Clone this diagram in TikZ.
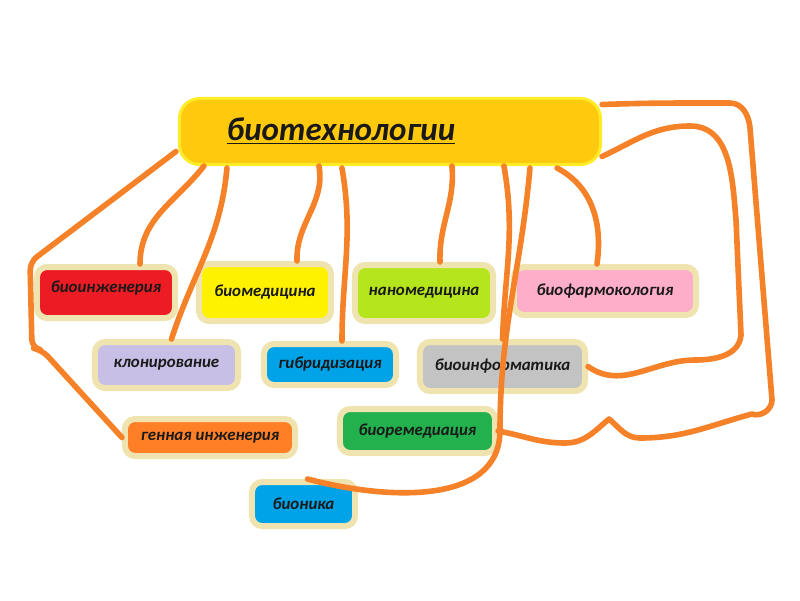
\documentclass[tikz,border=0pt]{standalone}
\usepackage{fontspec}
\setmainfont{Carlito}
\usepackage{xcolor}
\usepackage{tikz}
\usetikzlibrary{positioning,calc}

\definecolor{lineorange}{RGB}{245,130,40}
\definecolor{topfill}{RGB}{255,201,14}
\definecolor{topborder}{RGB}{255,236,40}
\definecolor{halo}{RGB}{239,228,176}
\definecolor{redbox}{RGB}{237,28,36}
\definecolor{yellowbox}{RGB}{255,242,0}
\definecolor{limebox}{RGB}{181,230,29}
\definecolor{pinkbox}{RGB}{255,174,201}
\definecolor{lavenderbox}{RGB}{200,191,231}
\definecolor{bluebox}{RGB}{0,162,232}
\definecolor{greybox}{RGB}{195,195,195}
\definecolor{orangebox}{RGB}{255,127,39}
\definecolor{greenbox}{RGB}{34,177,76}

\begin{document}
\begin{tikzpicture}[
  x=0.025cm, y=-0.025cm,
  font=\bfseries\itshape\fontsize{12}{14}\selectfont,
  box/.style={draw=halo, line width=0.15cm, rounded corners=0.25cm, align=center, inner sep=2pt, text=black!90},
  link/.style={draw=lineorange, line width=0.14cm, line cap=round, line join=round}]

\useasboundingbox (0,0) rectangle (800,600);

% Top: main topic
\node[draw=topborder, fill=topfill, line width=0.075cm, rounded corners=0.5cm, minimum width=10.525cm, minimum height=1.65cm] (main) at (390,131.5) {};
\node[font=\bfseries\itshape\fontsize{23.5}{28}\selectfont, text=black!90] (title) at (341,131) {\underline{биотехнологии}};

% Row 1
\node[box, fill=redbox, minimum width=3.45cm, minimum height=1.275cm, text depth=0.3cm] (bioeng) at (106,292.5) {биоинженерия};
\node[box, fill=yellowbox, minimum width=3.3cm, minimum height=1.425cm] (biomed) at (265,292.5) {биомедицина};
\node[box, fill=limebox, minimum width=3.45cm, minimum height=1.4cm] (nanomed) at (424,293) {наномедицина};
\node[box, fill=pinkbox, minimum width=4.55cm, minimum height=1.2cm] (biopharm) at (605,291) {биофармокология};

% Row 2
\node[box, fill=lavenderbox, minimum width=3.575cm, minimum height=1.15cm] (clon) at (166.5,365) {клонирование};
\node[box, fill=bluebox, minimum width=3.3cm, minimum height=1.025cm] (hybrid) at (330,364.5) {гибридизация};
\node[box, fill=greybox, minimum width=4.125cm, minimum height=1.225cm] (bioinf) at (502.5,366.5) {биоинформатика};

% Row 3 and 4
\node[box, fill=orangebox, minimum width=4.25cm, minimum height=0.925cm] (genetic) at (210,437.5) {генная инженерия};
\node[box, fill=greenbox, minimum width=3.875cm, minimum height=1.1cm] (bioremed) at (417.5,431) {биоремедиация};
\node[box, fill=bluebox, minimum width=2.575cm, minimum height=1.1cm] (bionics) at (303.5,504) {бионика};

% Edges from the bottom of the main box
\draw[link, rounded corners=6pt] ($(main.west)+(-2,20)$) -- (30,262) -- (32,348) -- (42,350) -- (genetic.west);
\draw[link] ($(main.south west)+(26,0)$) to[out=-128,in=90] ($(bioeng.north)+(34,0)$);
\draw[link] ($(main.south west)+(49,2)$) to[out=-95,in=72] ($(clon.north)+(5,0)$);
\draw[link] ($(main.south west)+(141,0)$) to[out=-80,in=92] ($(biomed.north)+(32,0)$);
\draw[link] ($(main.south west)+(164,2)$) to[out=-80,in=90] ($(hybrid.north)+(12,0)$);
\draw[link] ($(main.south west)+(274,0)$) to[out=-85,in=92] ($(nanomed.north)+(16,0)$);
\draw[link] ($(main.south west)+(326,0)$) to[out=-80,in=88] (bioinf.north);
\draw[link] ($(main.south west)+(352,2)$) to[out=-95,in=90] (500,430) to[out=-90,in=-15] ($(bionics.north)+(4,0)$);
\draw[link] ($(main.south east)+(-45,2)$) to[out=-28,in=82] ($(biopharm.north)+(-8,0)$);

% Loops round the right side
\draw[link] ($(main.east)+(0,25)$) to[out=25,in=180] (690,126) to[out=0,in=95] (736,220) -- (741,335) to[out=-95,in=0] (695,360) to[out=180,in=-35] (bioinf.east);
\draw[link] ($(main.east)+(0,-27)$) to[out=2,in=180] (730,103) to[out=0,in=95] (750,128) -- (772,400) to[out=-90,in=-20] (752,414) to[out=-165,in=0] (640,438) to[out=180,in=-40] (609,419) to[out=-140,in=0] (565,443) to[out=180,in=-10] (bioremed.east);
\end{tikzpicture}
\end{document}
